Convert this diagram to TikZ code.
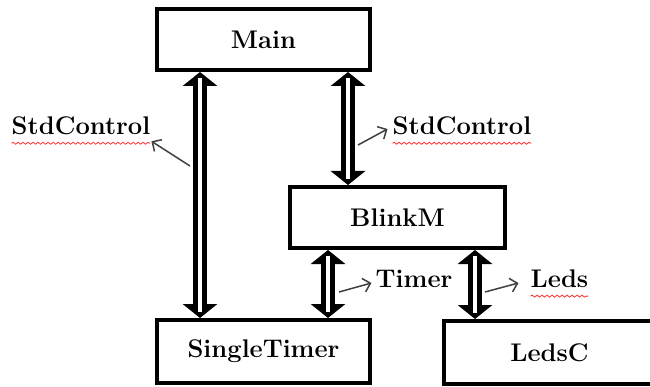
\documentclass[tikz,border=0pt]{standalone}
\usepackage{fontspec}
\usetikzlibrary{arrows.meta,decorations.pathmorphing}
\begin{document}
\begin{tikzpicture}[x=1pt,y=-1pt,
  txt/.style={font=\fontsize{25.5}{30}\selectfont\bfseries},
  box/.style={txt,draw,line width=4pt,minimum height=61pt,inner sep=0pt},
  lbl/.style={txt,inner sep=0pt},
  dbl/.style={line width=14pt,{Triangle[length=14pt,width=34pt]}-{Triangle[length=14pt,width=34pt]},
    postaction={draw=white,line width=4pt,arrows=-,shorten <=6pt,shorten >=6pt}},
  thinarr/.style={draw=black!75,line width=1.5pt,-{Straight Barb[length=7pt,width=14pt]}},
  wavy/.style={draw=red!80,line width=0.8pt,decorate,decoration={snake,segment length=5pt,amplitude=1pt}}]
\useasboundingbox (0,0) rectangle (650,387);
\fill[white] (0,0) rectangle (650,387);
\clip (0,0) rectangle (650,387);
% boxes
\node[box,minimum width=213pt] (main) at (263.5,39.5) {Main};
\node[box,minimum width=215pt] (blink) at (397.5,217.5) {BlinkM};
\node[box,minimum width=213pt,minimum height=63pt] (st) at (263.5,351.5) {SingleTimer};
\node[box,minimum width=211pt,minimum height=63pt] (leds) at (549.5,352.5) {LedsC};
% x positions of the double arrows
\coordinate (xa) at (200,0);
\coordinate (xb) at (348,0);
\coordinate (xc) at (328,0);
\coordinate (xd) at (475,0);
\draw[dbl] (main.south -| xa) -- (st.north -| xa);
\draw[dbl] (main.south -| xb) -- (blink.north -| xb);
\draw[dbl] (blink.south -| xc) -- (st.north -| xc);
\draw[dbl] (blink.south -| xd) -- (leds.north -| xd);
% labels
\node[lbl] (sc1) at (81,126) {StdControl};
\node[lbl] (sc2) at (462,126) {StdControl};
\node[lbl] (tm) at (414,279) {Timer};
\node[lbl] (ld) at (559.5,279) {Leds};
% tails of the thin arrows
\coordinate (t1) at (190,166);
\coordinate (t2) at (358,145);
\coordinate (t3) at (339,292);
\coordinate (t4) at (485,292);
\draw[thinarr] (t1) -- ([shift={(1,6)}]sc1.south east);
\draw[thinarr] (t2) -- ([shift={(-5,3)}]sc2.west);
\draw[thinarr] (t3) -- ([shift={(-4,4)}]tm.west);
\draw[thinarr] (t4) -- ([shift={(-12,4)}]ld.west);
% spelling underlines
\draw[wavy] ([shift={(0,8)}]sc1.south west) -- ([shift={(0,8)}]sc1.south east);
\draw[wavy] ([shift={(0,8)}]sc2.south west) -- ([shift={(0,8)}]sc2.south east);
\draw[wavy] ([shift={(0,8)}]ld.south west) -- ([shift={(0,8)}]ld.south east);
\end{tikzpicture}
\end{document}
